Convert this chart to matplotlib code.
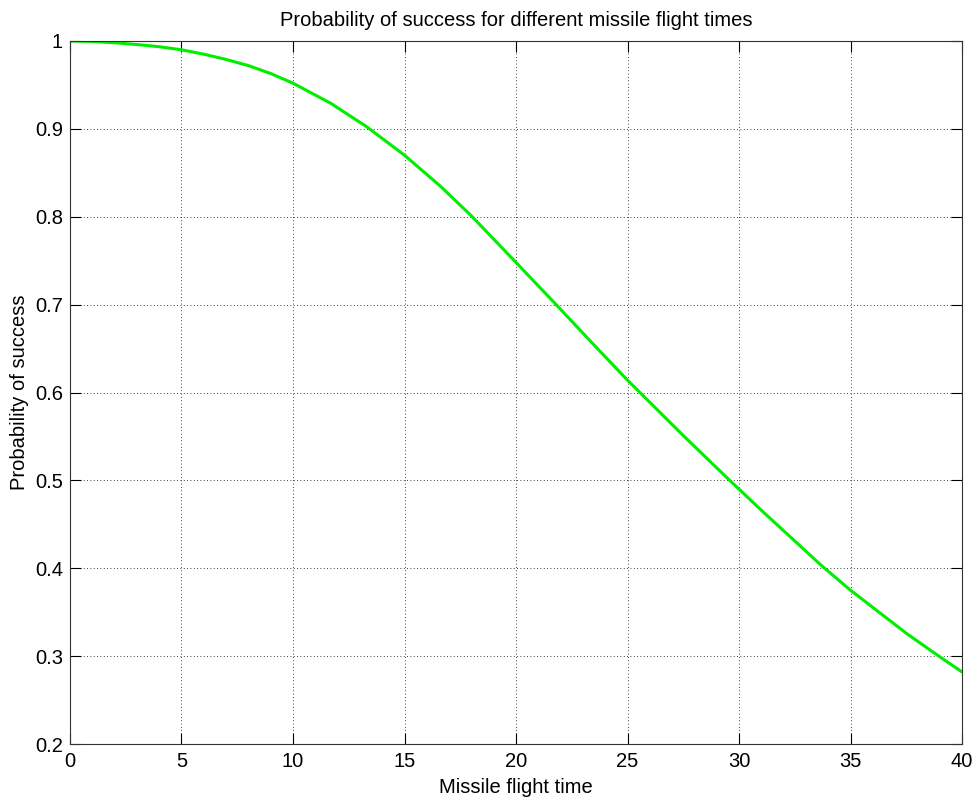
import matplotlib
matplotlib.use('Agg')
import matplotlib.pyplot as plt

# values
flight_time = [0, 1, 2, 3, 4, 5, 6, 7, 8, 9, 10, 11.7, 13.3, 15, 16.6, 18, 20,
               21.8, 23.5, 25, 27.5, 29.5, 31, 33.7, 35, 37.5, 38.9, 40]
p_success = [1.0, 0.9995, 0.998, 0.996, 0.9935, 0.990, 0.985, 0.979, 0.972, 0.963, 0.952,
             0.929, 0.9025, 0.870, 0.835, 0.801, 0.748,
             0.700, 0.654, 0.614, 0.551, 0.502, 0.466, 0.403, 0.375, 0.326, 0.301, 0.282]

xticks = [0, 5, 10, 15, 20, 25, 30, 35, 40]
yticks = [0.2, 0.3, 0.4, 0.5, 0.6, 0.7, 0.8, 0.9, 1]

plt.rcParams['font.family'] = ['Liberation Sans', 'DejaVu Sans']

fig = plt.figure(figsize=(9.76, 8), dpi=100)
ax = fig.add_axes([0.0717, 0.07, 0.914, 0.87875])

ax.plot(flight_time, p_success, color='#00ee00', linewidth=2.2,
        solid_joinstyle='round', solid_capstyle='round')

ax.set_xlim(0, 40)
ax.set_ylim(0.2, 1)
ax.set_xticks(xticks)
ax.set_xticklabels([str(t) for t in xticks])
ax.set_yticks(yticks)
ax.set_yticklabels(['%g' % t for t in yticks])

ax.grid(True, color='black', linestyle=(0, (1, 3)), linewidth=0.6)
ax.tick_params(axis='both', direction='in', length=8, width=0.8, top=True, right=True,
               labelsize=14.5, colors='black')
ax.tick_params(axis='y', pad=5)
ax.tick_params(axis='x', pad=6)
for s in ax.spines.values():
    s.set_linewidth(0.8)
    s.set_color('#333333')

ax.set_xlabel('Missile flight time', fontsize=14.5, labelpad=5)
ax.set_ylabel('Probability of success', fontsize=14.5, labelpad=4)
ax.set_title('Probability of success for different missile flight times', fontsize=14.5, pad=11)

fig.savefig('out.png', dpi=100)
